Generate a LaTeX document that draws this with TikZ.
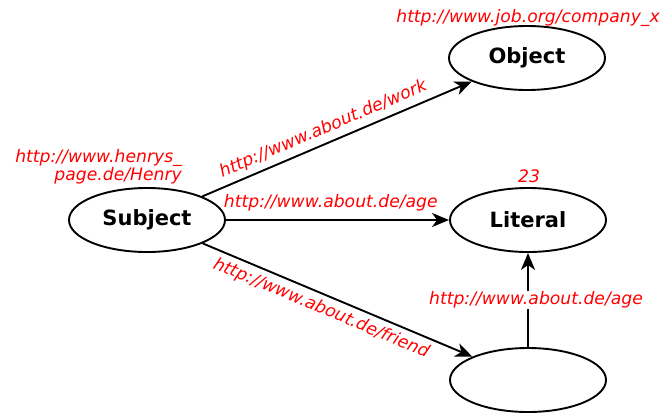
\documentclass[tikz,border=0pt]{standalone}
\usepackage{fontspec}
\setmainfont{DejaVu Sans}
\usetikzlibrary{arrows.meta,shapes.geometric}

\begin{document}
\begin{tikzpicture}[x=1pt,y=-1pt,
    res/.style={draw,ellipse,line width=1.9pt,minimum width=156pt,minimum height=64pt,
      inner sep=0pt,font=\fontsize{21}{24}\selectfont\bfseries},
    uri/.style={text=red,font=\fontsize{17.2}{18}\selectfont\itshape,inner sep=1pt},
    prop/.style={line width=1.9pt,-{Stealth[length=17pt,width=14pt,inset=5pt]}}]
  \useasboundingbox (0,0) rectangle (666,418);
  \node[res] (subj) at (147,220) {Subject};
  \node[res] (obj) at (527,58) {Object};
  \node[res] (lit) at (528,220) {Literal};
  \node[res] (blank) at (528,380) {};
  \node[uri,anchor=base] (objuri) at (528,22) {http://www.job.org/company\_x};
  \node[uri,anchor=base] (litval) at (529,182) {23};
  \node[uri,align=right,anchor=south east] (subjuri) at (183,185) {http://www.henrys\_\\page.de/Henry};
  \draw[prop] (subj) -- node[uri,sloped,above=4pt,pos=0.47] {http://www.about.de/work} (obj);
  \draw[prop] (subj) -- node[uri,above=7pt,pos=0.47] {http://www.about.de/age} (lit);
  \draw[prop] (subj) -- node[uri,sloped,below=4pt,pos=0.46] {http://www.about.de/friend} (blank);
  \draw[prop] (blank) -- node[uri,fill=white,xshift=8pt] {http://www.about.de/age} (lit);
\end{tikzpicture}
\end{document}
